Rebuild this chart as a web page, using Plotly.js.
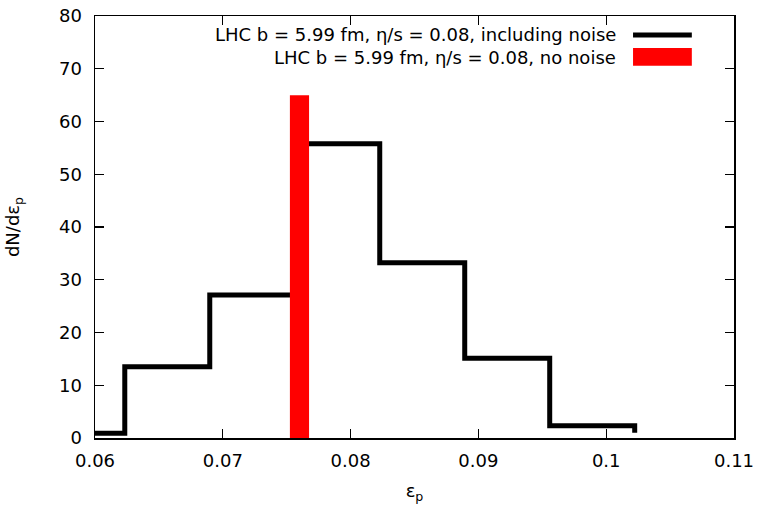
<!DOCTYPE html>
<html>
<head>
<meta charset="utf-8">
<script src="https://cdn.plot.ly/plotly-3.0.1.min.js"></script>
<style>html,body{margin:0;padding:0;background:#fff;}#chart{width:757px;height:507px;}</style>
</head>
<body>
<div id="chart"></div>
<script>
// Histogram including noise (step edges and heights)
var noiseEdges = [0.0600, 0.06233, 0.06898, 0.07563, 0.08228, 0.08893, 0.09558, 0.10223];
var noiseValues = [0.9, 13.5, 27.1, 55.8, 33.2, 15.1, 2.3, 1.0];
// Single bin without noise
var noNoiseCenter = [0.0760];
var noNoiseValue = [65];
var noNoiseWidth = [0.0015];
// Legend labels
var seriesNames = ["LHC b = 5.99 fm, η/s = 0.08, including noise", "LHC b = 5.99 fm, η/s = 0.08, no noise"];
var xTicks = [0.06, 0.07, 0.08, 0.09, 0.1, 0.11];
var yTicks = [0, 10, 20, 30, 40, 50, 60, 70, 80];

var c = noNoiseCenter[0], w = noNoiseWidth[0], v = noNoiseValue[0];
var redX = [c - w/2, c - w/2, c + w/2, c + w/2, c - w/2];
var redY = [0, v, v, 0, 0];

var traces = [
  {x: noiseEdges, y: noiseValues, type: 'scatter', mode: 'lines', line: {shape: 'hv', color: '#000', width: 5},
   name: seriesNames[0], showlegend: false},
  {x: redX, y: redY, type: 'scatter', mode: 'lines', fill: 'toself', fillcolor: '#ff0000',
   line: {color: '#ff0000', width: 0}, name: seriesNames[1], showlegend: false}
];

var font = {family: 'DejaVu Sans, Liberation Sans, Arial, sans-serif', size: 18, color: '#000'};
var layout = {
  width: 757, height: 507,
  margin: {l: 95, r: 23, t: 16, b: 69},
  paper_bgcolor: '#fff', plot_bgcolor: '#fff',
  font: font,
  showlegend: false,
  xaxis: {range: [0.06, 0.11], tickvals: xTicks, ticktext: xTicks.map(String), ticks: 'inside', ticklen: 9, tickwidth: 1.3,
    tickcolor: '#000', showline: true, linecolor: '#000', linewidth: 1.5, mirror: 'ticks', showgrid: false, zeroline: false,
    ticklabelstandoff: 6, title: {text: 'ε<sub>p</sub>', font: font, standoff: 14}, automargin: false},
  yaxis: {range: [0, 80], tickvals: yTicks, ticks: 'inside', ticklen: 9, tickwidth: 1.3,
    tickcolor: '#000', showline: true, linecolor: '#000', linewidth: 1.5, mirror: 'ticks', showgrid: false, zeroline: false,
    ticklabelstandoff: 8, title: {text: 'dN/dε<sub>p</sub>', font: font, standoff: 34}, automargin: false},
  annotations: [
    {xref: 'paper', yref: 'paper', x: 0.8185, y: 0.955, xanchor: 'right', yanchor: 'middle', text: seriesNames[0], showarrow: false, font: font},
    {xref: 'paper', yref: 'paper', x: 0.8185, y: 0.9005, xanchor: 'right', yanchor: 'middle', text: seriesNames[1], showarrow: false, font: font}
  ],
  shapes: [
    {type: 'line', xref: 'paper', yref: 'paper', x0: 0.842, x1: 0.934, y0: 0.955, y1: 0.955, line: {color: '#000', width: 5}},
    {type: 'rect', xref: 'paper', yref: 'paper', x0: 0.842, x1: 0.934, y0: 0.882, y1: 0.924, fillcolor: '#ff0000', line: {width: 0}}
  ]
};
Plotly.newPlot('chart', traces, layout, {displayModeBar: false, staticPlot: true});
</script>
</body>
</html>
